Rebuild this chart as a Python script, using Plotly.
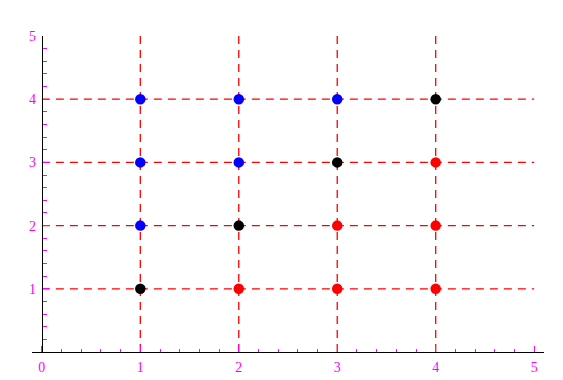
import plotly.graph_objects as go

# Data
grid_x = [1, 2, 3, 4]          # vertical dashed lines
grid_y = [1, 2, 3, 4]          # horizontal dashed lines
grid_extent = [0, 5]

blue_x = [1, 2, 3, 1, 2, 1]
blue_y = [4, 4, 4, 3, 3, 2]
black_x = [1, 2, 3, 4]
black_y = [1, 2, 3, 4]
red_x = [2, 3, 4, 3, 4, 4]
red_y = [1, 1, 1, 2, 2, 3]

x_tickvals = [0, 1, 2, 3, 4, 5]
x_ticktext = ["0", "1", "2", "3", "4", "5"]
y_tickvals = [0, 1, 2, 3, 4, 5]
y_ticktext = ["", "1", "2", "3", "4", "5"]

x_range = [-0.1, 5.1]
y_range = [0, 5]

MAG = "#FF00FF"
DASH = "8px,6px"

fig = go.Figure()

vx, vy = [], []
for gx in grid_x:
    vx += [gx, gx, None]
    vy += [grid_extent[0], grid_extent[1], None]
hx, hy = [], []
for gy in grid_y:
    hx += [grid_extent[0], grid_extent[1], None]
    hy += [gy, gy, None]

fig.add_trace(go.Scatter(x=vx, y=vy, mode="lines",
                         line=dict(color="#FF0000", width=1.3, dash=DASH),
                         hoverinfo="skip", showlegend=False))
fig.add_trace(go.Scatter(x=hx, y=hy, mode="lines",
                         line=dict(color="#FF0000", width=1.3, dash=DASH),
                         hoverinfo="skip", showlegend=False))

for xs, ys, col in [(blue_x, blue_y, "#0000FF"),
                    (black_x, black_y, "#000000"),
                    (red_x, red_y, "#FF0000")]:
    fig.add_trace(go.Scatter(x=xs, y=ys, mode="markers",
                             marker=dict(color=col, size=10.5, line=dict(width=0)),
                             showlegend=False, cliponaxis=False))

ypos = (0 - x_range[0]) / (x_range[1] - x_range[0])

fig.update_layout(
    width=563, height=380, autosize=False,
    margin=dict(l=32, r=19, t=36, b=28, pad=0),
    plot_bgcolor="white", paper_bgcolor="white",
    font=dict(family="Liberation Serif", size=14, color=MAG),
    xaxis=dict(range=x_range, showgrid=False, zeroline=False, automargin=False,
               showline=True, linecolor="black", linewidth=1,
               tickmode="array", tickvals=x_tickvals, ticktext=x_ticktext,
               ticks="inside", ticklen=6, tickwidth=1, tickcolor=MAG,
               ticklabelstandoff=2,
               tickfont=dict(color=MAG, size=14, family="Liberation Serif"),
               minor=dict(ticks="inside", ticklen=3, tickwidth=1, tickcolor=MAG,
                          tick0=0, dtick=0.2, showgrid=False),
               fixedrange=True),
    yaxis=dict(range=y_range, showgrid=False, zeroline=False, automargin=False,
               anchor="free", position=ypos,
               showline=True, linecolor="black", linewidth=1,
               tickmode="array", tickvals=y_tickvals, ticktext=y_ticktext,
               ticks="inside", ticklen=6, tickwidth=1, tickcolor=MAG,
               ticklabelstandoff=3,
               tickfont=dict(color=MAG, size=14, family="Liberation Serif"),
               minor=dict(ticks="inside", ticklen=4, tickwidth=1, tickcolor=MAG,
                          tick0=0, dtick=0.2, showgrid=False),
               fixedrange=True),
)

fig.write_html("out.html")
